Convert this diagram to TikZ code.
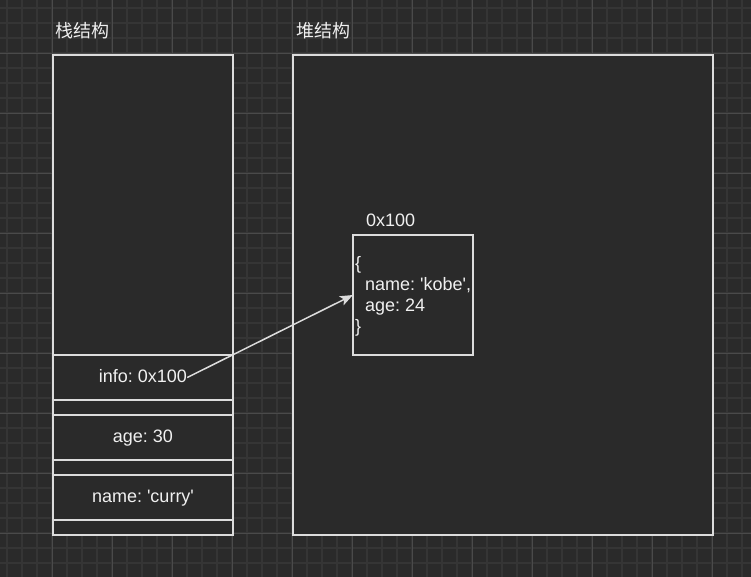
\documentclass[tikz,border=0pt]{standalone}
\usepackage{fontspec}
\setmainfont{Liberation Sans}
\newfontfamily\cjk{Noto Sans CJK SC}
\definecolor{bgdark}{HTML}{2A2A2A}
\definecolor{gridminor}{HTML}{353535}
\definecolor{gridmajor}{HTML}{4A4A4A}
\definecolor{strokegray}{HTML}{DCDCDC}
\definecolor{textwhite}{HTML}{F0F0F0}
\usetikzlibrary{arrows.meta, positioning}
\frenchspacing

\begin{document}
\begin{tikzpicture}[x=1pt, y=-1pt,
        node distance=0pt,
        box/.style={rectangle, draw=strokegray, fill=bgdark, line width=1.5pt,
                    inner sep=0pt, outer sep=0pt, minimum width=180pt,
                    text=textwhite, font=\fontsize{18}{21}\selectfont},
        slot/.style={box, minimum height=45pt, text height=13.5pt, text depth=3.5pt},
        gap/.style={box, minimum height=15pt},
        txt/.style={inner sep=0pt, text=textwhite,
                    font=\fontsize{18}{21}\selectfont},
        title/.style={txt, anchor=west, font=\fontsize{18}{21}\selectfont\cjk},
        minorline/.style={gridminor, line width=1.5pt},
        majorline/.style={gridmajor, line width=0.8pt},
        arr/.style={-{Stealth[length=13pt, width=10pt, inset=3pt]},
                    draw=strokegray, line width=1.5pt}
      ]
      \useasboundingbox (0,0) rectangle (751,577);
      \fill[bgdark] (0,0) rectangle (751,577);
      \foreach \x in {7,22,...,751} \draw[minorline] (\x,0) -- (\x,577);
      \foreach \y in {8,23,...,577} \draw[minorline] (0,\y) -- (751,\y);
      \foreach \x in {52,112,...,751} \draw[majorline] (\x,0) -- (\x,577);
      \foreach \y in {53,113,...,577} \draw[majorline] (0,\y) -- (751,\y);

      \node[title] (stacktitle) at (55,31) {栈结构};
      \node[title] (heaptitle)  at (296,31) {堆结构};

      \node[box, anchor=north west, minimum height=480pt] (stack) at (53,55) {};
      \node[slot, anchor=north west] (infoslot) at (53,355) {};
      \node[gap, below=of infoslot] (gapa) {};
      \node[slot, below=of gapa] (ageslot) {age: 30};
      \node[gap, below=of ageslot] (gapb) {};
      \node[slot, below=of gapb] (nameslot)
        {name: \textquotesingle curry\textquotesingle};
      \node[gap, below=of nameslot] (gapc) {};
      \node[txt, text height=13.5pt, text depth=3.5pt] (infotext) at (infoslot.center) {info: 0x100};

      \node[box, anchor=north west, minimum width=420pt, minimum height=480pt] (heap) at (293,55) {};
      \node[box, anchor=north west, minimum width=120pt, minimum height=120pt] (obj) at (353,235) {};
      \node[txt, anchor=west] (objaddr) at (366,220) {0x100};
      \node[txt, anchor=west, align=left] (objbody) at ([xshift=2pt, yshift=-1pt]obj.west)
        {\{\\\hspace*{10pt}name: \textquotesingle kobe\textquotesingle,\\\hspace*{10pt}age: 24\\\}};

      \draw[arr] (infotext.east) -- (obj.west);
    \end{tikzpicture}
\end{document}
